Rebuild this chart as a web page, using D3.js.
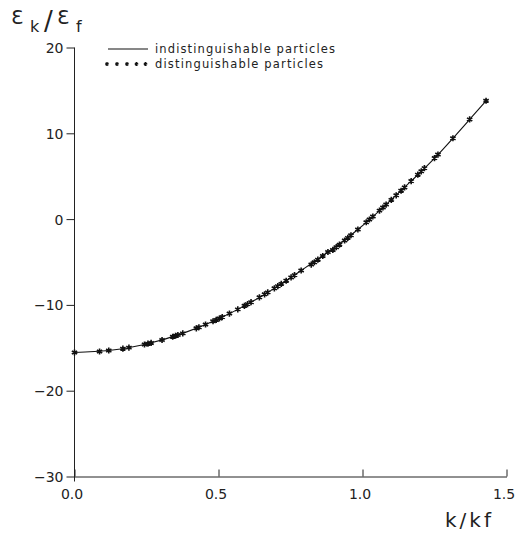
<!DOCTYPE html>
<html>
<head>
<meta charset="utf-8">
<script src="https://cdn.jsdelivr.net/npm/d3@7"></script>
<style>
  html, body { margin: 0; padding: 0; background: #fff; }
  svg { display: block; }
  text { font-family: "DejaVu Sans", "Liberation Sans", sans-serif; fill: #222; }
</style>
</head>
<body>
<svg id="chart" width="517" height="535"></svg>
<script>
// ---- data ----
const xTicks = [0.0, 0.5, 1.0, 1.5];
const yTicks = [-30, -20, -10, 0, 10, 20];

// indistinguishable particles (solid line)
const lineK = [0, 0.119, 0.243, 0.376, 0.503, 0.601, 0.694, 0.787, 0.880, 0.984, 1.082, 1.169, 1.262, 1.372, 1.429];
const lineE = [-15.55, -15.32, -14.61, -13.32, -11.58, -9.91, -8.07, -5.99, -3.84, -1.21, 1.69, 4.43, 7.52, 11.62, 13.79];

// distinguishable particles (star markers)
const markK = [0, 0.087, 0.119, 0.168, 0.189, 0.243, 0.255, 0.266, 0.304, 0.341, 0.351, 0.359, 0.376,
  0.423, 0.432, 0.455, 0.481, 0.492, 0.503, 0.513, 0.538, 0.567, 0.590, 0.601, 0.613, 0.642, 0.660,
  0.671, 0.694, 0.706, 0.718, 0.735, 0.752, 0.764, 0.787, 0.822, 0.833, 0.845, 0.862, 0.880, 0.897,
  0.909, 0.920, 0.938, 0.949, 0.960, 0.984, 1.013, 1.024, 1.036, 1.059, 1.071, 1.082, 1.100, 1.117,
  1.134, 1.146, 1.169, 1.192, 1.204, 1.215, 1.250, 1.262, 1.314, 1.372, 1.429];
const markE = [-15.55, -15.43, -15.32, -15.10, -14.98, -14.61, -14.52, -14.43, -14.09, -13.71, -13.60, -13.51, -13.32,
  -12.73, -12.61, -12.29, -11.91, -11.75, -11.58, -11.42, -11.01, -10.52, -10.11, -9.91, -9.68, -9.12, -8.77,
  -8.54, -8.07, -7.81, -7.55, -7.18, -6.80, -6.53, -5.99, -5.30, -5.03, -4.73, -4.30, -3.84, -3.59,
  -3.27, -2.98, -2.49, -2.19, -1.88, -1.21, -0.37, -0.05, 0.30, 0.99, 1.35, 1.69, 2.24, 2.77,
  3.31, 3.69, 4.43, 5.18, 5.57, 5.94, 7.11, 7.52, 9.42, 11.62, 13.79];

const legendLabels = ["indistinguishable particles", "distinguishable particles"];

// ---- drawing ----
const svg = d3.select("#chart");
svg.append("rect").attr("width", 517).attr("height", 535).attr("fill", "#fff");

const x = d3.scaleLinear().domain([0, 1.5]).range([74.5, 506.5]);
const y = d3.scaleLinear().domain([-30, 20]).range([476.5, 47.5]);
const ink = "#222";

const fmt = d => (d < 0 ? "\u2212" + Math.abs(d) : d3.format("d")(d));

// y axis
const gy = svg.append("g").attr("transform", "translate(74.5,0)")
  .call(d3.axisLeft(y).tickValues(yTicks).tickSizeInner(8).tickSizeOuter(0).tickPadding(3).tickFormat(fmt));
gy.select(".domain").attr("stroke", ink).attr("d", `M0,${y(20)}V${y(-30) + 5}`);
gy.selectAll(".tick line").attr("stroke", ink);
gy.selectAll(".tick text").attr("font-size", 14).attr("fill", ink).attr("dy", "0.36em")
  .style("font-family", "DejaVu Sans");

// x axis
const gx = svg.append("g").attr("transform", "translate(0,476.5)")
  .call(d3.axisBottom(x).tickValues(xTicks).tickSizeInner(-7).tickSizeOuter(0).tickFormat(d3.format(".1f")));
gx.select(".domain").attr("stroke", ink);
gx.selectAll(".tick line").attr("stroke", ink);
gx.selectAll(".tick text").attr("font-size", 14).attr("fill", ink)
  .attr("y", 22.5).attr("dy", 0).attr("dx", -3).style("font-family", "DejaVu Sans");

// axis title x
svg.append("text").attr("x", 445).attr("y", 527).attr("font-size", 20)
  .attr("letter-spacing", 3).attr("fill", ink).text("k/kf");

// axis title y: ε_k / ε_f
const ty = svg.append("g").attr("fill", ink);
ty.append("text").attr("x", 11).attr("y", 24).attr("font-size", 20).text("\u0190");
ty.append("text").attr("x", 30).attr("y", 32).attr("font-size", 16).text("k");
ty.append("text").attr("x", 44).attr("y", 30).attr("font-size", 26).text("/");
ty.append("text").attr("x", 57).attr("y", 24).attr("font-size", 20).text("\u0190");
ty.append("text").attr("x", 76).attr("y", 32).attr("font-size", 16).text("f");

// curve
const lineData = lineK.map((k, i) => [k, lineE[i]]);
svg.append("path").datum(lineData)
  .attr("fill", "none").attr("stroke", "#111").attr("stroke-width", 1.1)
  .attr("d", d3.line().x(d => x(d[0])).y(d => y(d[1])).curve(d3.curveNatural));

// markers
const star = d3.symbol().type(d3.symbolAsterisk).size(26);
const markData = markK.map((k, i) => [k, markE[i]]);
svg.append("g").selectAll("path").data(markData).join("path")
  .attr("transform", d => `translate(${x(d[0])},${y(d[1])})`)
  .attr("d", star).attr("fill", "none").attr("stroke", "#111").attr("stroke-width", 1.6);

// legend
const lg = svg.append("g");
lg.append("line").attr("x1", 108).attr("x2", 148).attr("y1", 49).attr("y2", 49)
  .attr("stroke", "#111").attr("stroke-width", 1.1);
lg.append("text").attr("x", 155).attr("y", 53).attr("font-size", 11.5).attr("fill", ink)
  .attr("textLength", 180).attr("lengthAdjust", "spacing").text(legendLabels[0]);
lg.selectAll("path.ls").data([107, 117, 127, 136.5, 145.5]).join("path")
  .attr("transform", d => `translate(${d},64)`)
  .attr("d", d3.symbol().type(d3.symbolAsterisk).size(10))
  .attr("fill", "none").attr("stroke", "#111").attr("stroke-width", 1.3);
lg.append("text").attr("x", 155).attr("y", 68).attr("font-size", 11.5).attr("fill", ink)
  .attr("textLength", 168).attr("lengthAdjust", "spacing").text(legendLabels[1]);
</script>
</body>
</html>
